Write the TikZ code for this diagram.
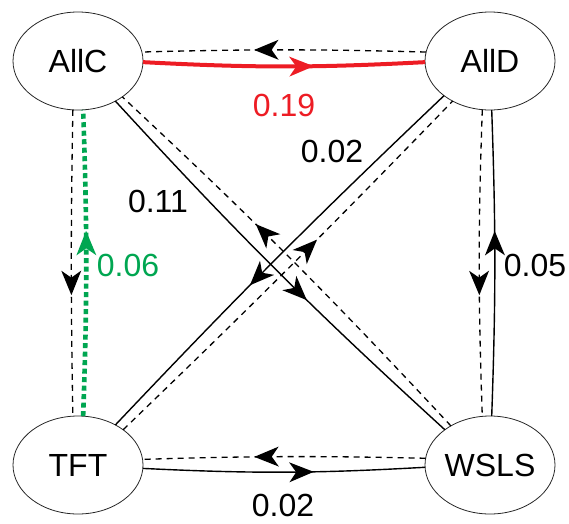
\documentclass[tikz,border=0pt]{standalone}
\usepackage{fontspec}
\setmainfont{Liberation Sans}
\usetikzlibrary{shapes.geometric,decorations.markings}

\definecolor{edgered}{RGB}{237,28,36}
\definecolor{edgegreen}{RGB}{0,166,81}

\tikzset{
  state/.style={draw=black!85, line width=0.8pt, ellipse, minimum width=130pt,
    minimum height=98pt, inner sep=0pt, outer sep=0pt,
    font=\fontsize{32}{38}\selectfont},
  lbl/.style={inner sep=0pt, font=\fontsize{32}{38}\selectfont},
  % barbed arrowhead placed with its tip on the path
  midarrow/.style={postaction={decorate},
    decoration={markings, mark=at position #1 with
      {\fill[solid] (1.5pt,0pt) -- (-23pt,10pt) -- (-16pt,0pt) -- (-23pt,-10pt) -- cycle;}}},
  solidedge/.style={color=black, line width=1.4pt},
  dashedge/.style={color=black, line width=1.3pt, dash pattern=on 6pt off 5pt},
  rededge/.style={color=edgered, line width=4pt},
  greenedge/.style={color=edgegreen, line width=4.6pt, dash pattern=on 5pt off 3.5pt},
}

\begin{document}
\begin{tikzpicture}[x=1pt, y=-1pt]
  \useasboundingbox (0,0) rectangle (569,523);

  % strategies
  \node[state] (AllC) at (78,61)  {AllC};
  \node[state] (AllD) at (490,61) {AllD};
  \node[state] (TFT)  at (78,465) {TFT};
  \node[state] (WSLS) at (490,465) {WSLS};

  % AllC <-> AllD
  \draw[dashedge, midarrow=0.6] (AllD.172) to[bend right=1.5] (AllC.8);
  \draw[rededge, midarrow=0.6] (AllC.-1.5) to[bend right=3] (AllD.181.5);

  % TFT <-> WSLS
  \draw[dashedge, midarrow=0.6] (WSLS.174.7) to[bend right=1.5] (TFT.5.3);
  \draw[solidedge, midarrow=0.6] (TFT.-3.5) to[bend right=3] (WSLS.182);

  % AllC <-> TFT
  \draw[dashedge, midarrow=0.6] (AllC.-96) to[bend right=1] (TFT.96);
  \draw[greenedge, midarrow=0.6] (TFT.84) to[bend right=2] (AllC.-84);

  % AllD <-> WSLS
  \draw[dashedge, midarrow=0.6] (AllD.-99) to[bend right=2] (WSLS.99);
  \draw[solidedge, midarrow=0.6] (WSLS.88) to[bend right=2] (AllD.-88);

  % diagonals
  \draw[solidedge, midarrow=0.59] (AllC.-47) to[bend right=2.5] (WSLS.142);
  \draw[dashedge, midarrow=0.6] (WSLS.135) to[bend right=2] (AllC.-39);
  \draw[solidedge, midarrow=0.58] (AllD.-143) to[bend right=1.5] (TFT.47);
  \draw[dashedge, midarrow=0.58] (TFT.38) to[bend right=1] (AllD.-133);

  % rates
  \node[lbl, text=edgered]   (r1) at (284,105.6) {0.19};
  \node[lbl]                 (r2) at (283,505)   {0.02};
  \node[lbl, text=edgegreen] (r3) at (128,265)   {0.06};
  \node[lbl]                 (r4) at (535,265)   {0.05};
  \node[lbl]                 (r5) at (158,201)   {0.11};
  \node[lbl]                 (r6) at (332,151.5) {0.02};
\end{tikzpicture}
\end{document}
